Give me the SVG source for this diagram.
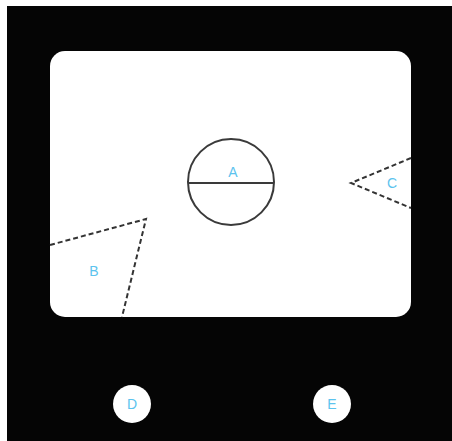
<svg xmlns="http://www.w3.org/2000/svg" width="452" height="441" viewBox="0 0 452 441">
<style>
.lbl{font-family:"Liberation Sans",Arial,sans-serif;font-size:14px;fill:#5cc3ee;text-anchor:middle;dominant-baseline:central}
.dash{fill:none;stroke:#333;stroke-width:2;stroke-dasharray:5 3}
.solid{fill:none;stroke:#3a3a3a;stroke-width:2}
</style>
<rect width="452" height="441" fill="#fff"/>
<rect x="7" y="6" width="445" height="435" fill="#050505"/>
<rect id="screen" x="50" y="51" width="361" height="266" rx="15" fill="#fff"/>
<g id="A">
<circle class="solid" cx="231" cy="182" r="43"/>
<line class="solid" x1="188" y1="183" x2="274" y2="183"/>
<text class="lbl" x="233" y="172">A</text>
</g>
<g id="B">
<polyline class="dash" points="50,245 146,219 122,317"/>
<text class="lbl" x="94" y="271">B</text>
</g>
<g id="C">
<polyline class="dash" points="411,158 351,183 411,208"/>
<text class="lbl" x="392" y="183">C</text>
</g>
<g id="D">
<circle cx="132" cy="404" r="19" fill="#fff"/>
<text class="lbl" x="132" y="404">D</text>
</g>
<g id="E">
<circle cx="332" cy="404" r="19" fill="#fff"/>
<text class="lbl" x="332" y="404">E</text>
</g>
<g id="connectors"></g>
</svg>
